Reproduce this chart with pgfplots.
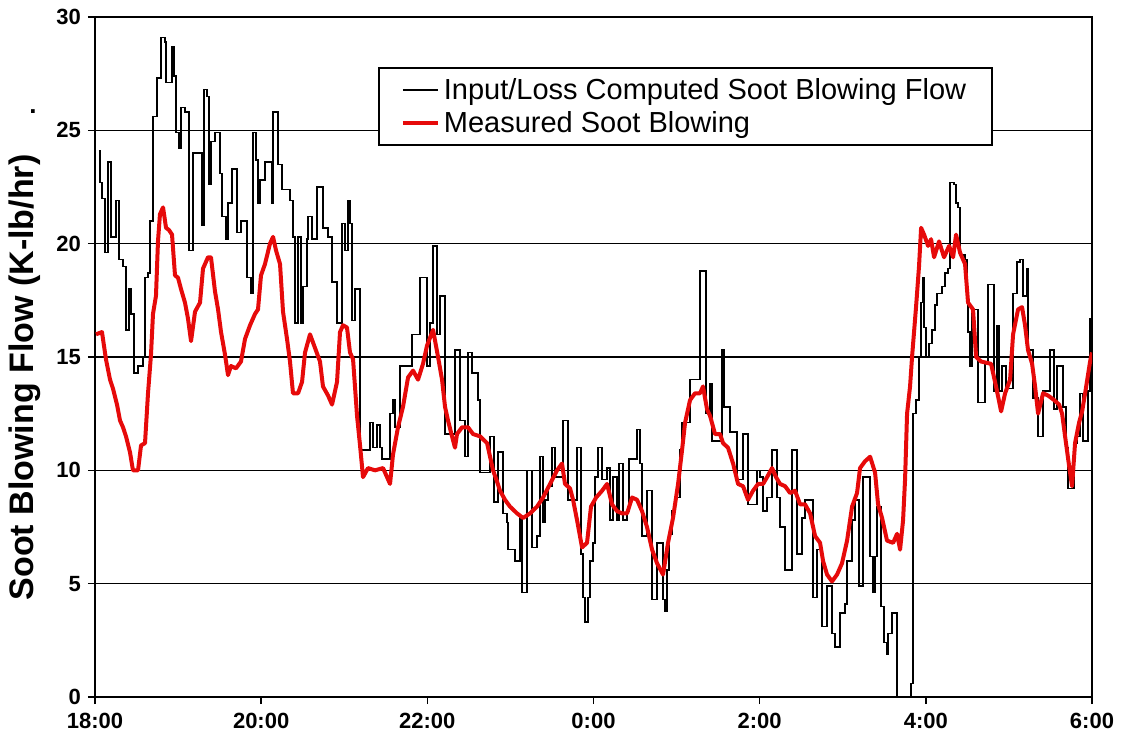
\documentclass[border=0pt]{standalone}
\usepackage{pgfplots}
\pgfplotsset{compat=1.18}
\usepackage{fontspec}
\setmainfont{Liberation Sans}
\definecolor{sbred}{RGB}{230,10,10}

\begin{document}
\begin{tikzpicture}
\begin{axis}[
  name=ax,
  scale only axis, width=498.5pt, height=340pt,
  xmin=0, xmax=12, ymin=0, ymax=30,
  xtick={0,2,...,12},
  xticklabels={18:00,20:00,22:00,0:00,2:00,4:00,6:00},
  ytick={0,5,...,30},
  ymajorgrids, grid style={black, line width=0.8pt},
  axis line style={black, line width=0.85pt},
  tick style={black, line width=0.75pt},
  tick align=outside, major tick length=3.5pt,
  xtick pos=left, ytick pos=left,
  tick label style={font=\bfseries\fontsize{11}{13}\selectfont},
  xticklabel style={yshift=-1pt},
  /pgf/number format/assume math mode=true,
  ylabel={Soot Blowing Flow (K-lb/hr)},
  ylabel style={font=\bfseries\fontsize{17}{20}\selectfont, at={(axis description cs:-0.0702,0.47)}, anchor=center},
  legend style={at={(0.284,0.926)}, anchor=north west, draw=black, line width=0.75pt,
     font=\fontsize{14.5}{17}\selectfont, row sep=0.5pt, inner xsep=11pt, inner ysep=3pt},
  legend cell align=left,
  legend image code/.code={\draw[#1] (0pt,0pt) -- (17.5pt,0pt);},
  clip=true,
]
\addplot[black, line width=0.75pt, const plot] coordinates {
(0.048,24.1)(0.060,22.7)(0.084,22.0)(0.120,19.6)(0.156,23.6)(0.193,20.3)(0.253,21.9)(0.289,19.3)
(0.337,19.0)(0.373,16.2)(0.409,18.0)(0.433,16.9)(0.469,14.3)(0.518,14.6)(0.578,15.0)(0.602,18.5)
(0.638,18.7)(0.662,21.0)(0.698,25.6)(0.746,27.3)(0.794,29.1)(0.843,28.9)(0.855,27.1)(0.927,28.7)
(0.951,27.4)(0.975,24.9)(1.011,24.2)(1.035,26.0)(1.083,25.8)(1.131,19.7)(1.180,24.0)(1.288,20.8)
(1.312,26.8)(1.348,26.5)(1.372,22.6)(1.396,24.5)(1.444,24.9)(1.505,23.1)(1.529,21.2)(1.577,20.2)
(1.601,21.8)(1.649,23.3)(1.709,20.5)(1.757,21.0)(1.830,18.5)(1.878,17.8)(1.902,24.9)(1.938,23.7)
(1.962,21.8)(1.986,22.8)(2.046,23.6)(2.131,21.8)(2.143,25.8)(2.203,23.5)(2.251,22.4)(2.347,21.9)
(2.383,20.3)(2.407,16.5)(2.444,20.3)(2.480,16.5)(2.504,18.1)(2.552,20.2)(2.564,21.2)(2.612,20.2)
(2.672,22.5)(2.744,20.7)(2.805,20.3)(2.853,18.3)(2.913,16.5)(2.973,20.9)(3.009,19.7)(3.045,21.9)
(3.069,20.9)(3.093,16.6)(3.130,18.0)(3.190,10.9)(3.310,12.1)(3.346,11.0)(3.394,12.0)(3.431,11.0)
(3.455,10.5)(3.551,12.5)(3.587,13.1)(3.611,11.9)(3.671,14.6)(3.816,16.0)(3.912,18.5)(3.996,14.6)
(4.032,16.5)(4.069,19.9)(4.117,16.0)(4.153,17.7)(4.213,11.6)(4.333,15.3)(4.394,12.2)(4.454,10.6)
(4.490,15.2)(4.538,14.3)(4.610,13.1)(4.634,9.9)(4.755,11.5)(4.803,8.6)(4.851,10.8)(4.911,8.1)
(4.959,7.7)(4.971,6.5)(5.056,6.0)(5.116,7.9)(5.140,4.6)(5.200,10.0)(5.260,6.6)(5.320,7.1)
(5.356,10.6)(5.393,7.7)(5.417,8.7)(5.453,9.3)(5.501,11.0)(5.537,9.7)(5.633,12.2)(5.694,8.7)
(5.802,11.0)(5.850,6.3)(5.874,4.4)(5.898,3.3)(5.934,4.4)(5.958,6.0)(5.994,6.8)(6.019,9.7)
(6.055,11.0)(6.103,9.6)(6.163,10.1)(6.199,7.8)(6.235,9.7)(6.283,7.8)(6.307,10.3)(6.356,7.8)
(6.404,8.2)(6.428,10.5)(6.524,11.8)(6.560,10.3)(6.584,7.1)(6.644,9.1)(6.705,4.3)(6.765,6.8)
(6.837,4.3)(6.861,3.8)(6.885,5.6)(6.909,7.2)(6.945,8.2)(6.982,8.8)(7.042,10.9)(7.066,12.1)
(7.162,14.0)(7.282,18.8)(7.354,12.5)(7.403,13.8)(7.427,11.3)(7.547,15.3)(7.571,12.8)(7.643,11.7)
(7.728,9.6)(7.800,11.6)(7.860,8.5)(7.968,10.0)(8.004,9.7)(8.041,8.2)(8.089,8.8)(8.149,10.9)
(8.209,8.8)(8.245,7.5)(8.306,5.6)(8.390,10.9)(8.450,6.3)(8.510,7.9)(8.546,8.7)(8.643,4.4)
(8.691,6.5)(8.751,3.1)(8.811,4.9)(8.871,2.8)(8.907,2.2)(8.968,3.7)(9.028,4.1)(9.052,6.0)
(9.112,7.8)(9.148,8.7)(9.196,4.9)(9.244,9.7)(9.329,6.2)(9.365,4.6)(9.389,6.2)(9.413,8.4)
(9.461,4.0)(9.497,2.4)(9.533,1.9)(9.545,2.8)(9.593,3.7)(9.654,0)(9.822,0.6)(9.846,12.5)
(9.882,13.1)(9.918,15.0)(9.943,17.4)(9.967,18.5)(9.979,16.3)(10.003,15.0)(10.039,15.6)(10.075,16.2)
(10.111,17.3)(10.135,17.8)(10.195,18.1)(10.231,18.7)(10.268,18.9)(10.292,22.7)(10.340,22.6)(10.364,21.8)
(10.388,21.6)(10.412,19.5)(10.472,19.3)(10.496,17.8)(10.508,16.1)(10.532,14.6)(10.556,17.1)(10.629,13.0)
(10.713,14.7)(10.749,18.2)(10.821,13.5)(10.857,16.4)(10.881,13.5)(10.918,14.6)(10.966,13.6)(11.050,17.8)
(11.098,19.2)(11.134,19.3)(11.170,17.7)(11.218,18.9)(11.230,15.3)(11.291,13.2)(11.351,11.5)(11.411,13.5)
(11.495,15.3)(11.544,12.7)(11.580,14.6)(11.652,12.8)(11.688,11.0)(11.712,9.2)(11.784,11.2)(11.820,11.5)
(11.856,13.4)(11.893,11.3)(11.953,13.5)(11.977,16.7)(12.0,16.7)
};
\addlegendentry{Input/Loss Computed Soot Blowing Flow}
\addplot[sbred, line width=2pt, line join=round] coordinates {
(0.012,16.0)(0.084,16.1)(0.132,14.9)(0.181,14.0)(0.217,13.6)(0.265,12.9)(0.301,12.2)(0.337,11.9)
(0.373,11.5)(0.421,10.8)(0.457,10.0)(0.518,10.0)(0.554,11.1)(0.602,11.2)(0.638,13.4)(0.674,15.1)
(0.698,16.9)(0.734,17.7)(0.758,20.1)(0.782,21.3)(0.819,21.6)(0.855,20.7)(0.891,20.6)(0.927,20.4)
(0.963,18.6)(0.999,18.5)(1.035,18.0)(1.083,17.4)(1.119,16.7)(1.156,15.7)(1.204,17.0)(1.264,17.4)
(1.300,18.9)(1.360,19.4)(1.396,19.4)(1.444,17.9)(1.481,17.1)(1.517,16.1)(1.565,15.1)(1.601,14.2)
(1.637,14.6)(1.697,14.5)(1.757,14.8)(1.806,15.8)(1.866,16.4)(1.926,16.9)(1.962,17.1)(1.998,18.6)
(2.046,19.1)(2.106,20.0)(2.143,20.3)(2.179,19.7)(2.227,19.1)(2.263,17.0)(2.311,15.8)(2.347,14.8)
(2.383,13.4)(2.444,13.4)(2.492,13.9)(2.528,15.2)(2.588,16.0)(2.648,15.4)(2.708,14.8)(2.744,13.7)
(2.805,13.3)(2.853,12.9)(2.913,13.9)(2.949,16.1)(2.985,16.4)(3.033,16.3)(3.069,15.2)(3.106,14.9)
(3.154,12.4)(3.190,11.1)(3.226,9.7)(3.286,10.1)(3.370,10.0)(3.467,10.1)(3.551,9.4)(3.587,10.7)
(3.647,11.9)(3.707,12.8)(3.768,14.1)(3.828,14.4)(3.888,14.0)(3.948,14.7)(3.996,15.5)(4.069,16.2)
(4.129,15.0)(4.177,14.0)(4.213,12.8)(4.249,12.2)(4.297,11.5)(4.333,11.0)(4.357,11.6)(4.418,11.9)
(4.490,11.9)(4.550,11.6)(4.634,11.5)(4.719,11.2)(4.755,10.6)(4.791,10.0)(4.839,9.5)(4.875,9.1)
(4.935,8.7)(4.995,8.4)(5.080,8.1)(5.152,7.9)(5.236,8.1)(5.320,8.4)(5.393,8.8)(5.477,9.4)
(5.561,10.0)(5.621,10.3)(5.657,9.4)(5.718,9.2)(5.754,8.7)(5.802,7.8)(5.862,6.6)(5.922,6.8)
(5.970,8.4)(6.031,8.8)(6.103,9.1)(6.163,9.4)(6.223,8.5)(6.283,8.2)(6.344,8.1)(6.404,8.1)
(6.464,8.8)(6.524,8.7)(6.584,8.2)(6.644,7.5)(6.705,6.5)(6.765,5.9)(6.837,5.4)(6.897,6.8)
(6.957,7.9)(7.018,9.4)(7.066,10.9)(7.102,12.1)(7.162,13.1)(7.222,13.4)(7.282,13.4)(7.318,13.7)
(7.366,12.7)(7.403,12.4)(7.463,11.6)(7.523,11.6)(7.559,11.2)(7.619,11.0)(7.680,10.3)(7.740,9.4)
(7.800,9.3)(7.860,8.7)(7.920,9.1)(7.981,9.4)(8.041,9.4)(8.089,9.7)(8.149,10.1)(8.197,9.7)
(8.245,9.4)(8.306,9.3)(8.366,9.0)(8.426,9.1)(8.486,8.5)(8.546,8.5)(8.607,8.1)(8.667,7.1)
(8.727,6.8)(8.763,6.0)(8.811,5.4)(8.871,5.1)(8.931,5.4)(8.991,5.9)(9.052,6.9)(9.112,8.4)
(9.172,9.0)(9.208,10.1)(9.268,10.4)(9.329,10.6)(9.389,9.9)(9.425,8.5)(9.473,7.9)(9.533,6.9)
(9.606,6.8)(9.654,7.2)(9.690,6.5)(9.726,7.8)(9.750,9.6)(9.774,12.5)(9.810,13.7)(9.834,15.0)
(9.882,17.2)(9.918,19.0)(9.943,20.7)(9.979,20.4)(10.027,19.9)(10.063,20.2)(10.099,19.4)(10.159,20.1)
(10.219,19.4)(10.280,19.9)(10.328,19.4)(10.364,20.4)(10.412,19.6)(10.472,19.1)(10.508,17.4)(10.568,17.1)
(10.605,15.0)(10.665,14.8)(10.785,14.7)(10.845,13.7)(10.906,12.6)(10.954,13.4)(11.014,14.0)(11.050,16.0)
(11.110,17.1)(11.158,17.2)(11.194,16.4)(11.230,15.3)(11.279,14.7)(11.315,13.7)(11.351,12.5)(11.411,13.4)
(11.471,13.3)(11.544,13.1)(11.604,12.9)(11.640,12.5)(11.676,11.5)(11.724,10.2)(11.760,9.3)(11.796,11.2)
(11.844,12.1)(11.881,12.6)(11.917,13.4)(11.977,14.8)(12.0,15.2)
};
\addlegendentry{Measured Soot Blowing}
\end{axis}
\node[inner sep=0pt, font=\bfseries\fontsize{13}{15}\selectfont] at ([xshift=-31pt,yshift=292.5pt]ax.south west) {.};
\path ([xshift=-47.5pt,yshift=-27pt]ax.south west) rectangle ([xshift=15.5pt,yshift=8.5pt]ax.north east);
\end{tikzpicture}
\end{document}
